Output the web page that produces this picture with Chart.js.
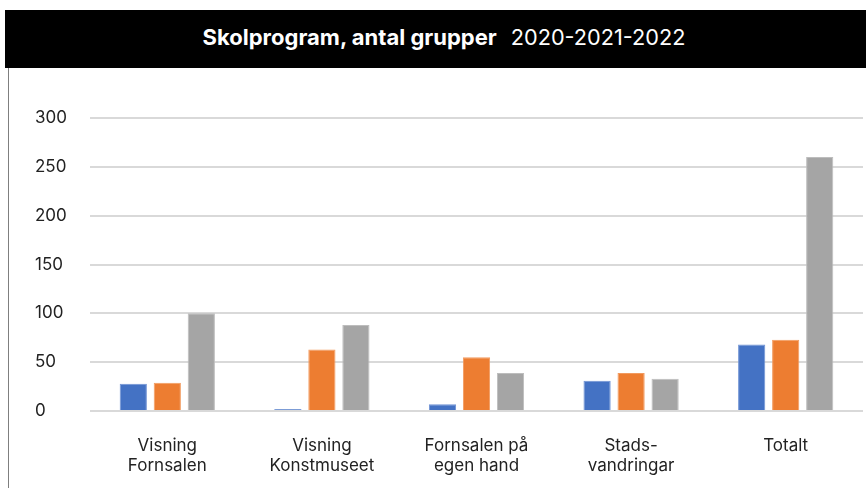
<!DOCTYPE html>
<html>
<head>
<meta charset="utf-8">
<script src="https://cdn.jsdelivr.net/npm/chart.js@4"></script>
<style>
  body { margin: 0; background: #fff; font-family: Inter, "Noto Sans", sans-serif; }
  #head {
    position: absolute; left: 5px; top: 10px; width: 844px; height: 58px; padding-left: 17px;
    background: #000; color: #fff; font-size: 21.7px; line-height: 54px; text-align: center;
  }
  #head b { font-weight: 700; font-size: 22px; margin-right: 14px; }
  #frame { position: absolute; left: 8px; top: 68px; width: 1px; height: 420px; background: #7f7f7f; z-index: 2; }
  #wrap { position: absolute; left: 0; top: 68px; width: 866px; height: 420px; }
</style>
</head>
<body>
<div id="head"><b>Skolprogram, antal grupper</b>2020-2021-2022</div>
<div id="frame"></div>
<div id="wrap"><canvas id="chart"></canvas></div>
<script>
var categories = [['Visning', 'Fornsalen'], ['Visning', 'Konstmuseet'], ['Fornsalen på', 'egen hand'], ['Stads-', 'vandringar'], 'Totalt'];
var years = ['2020', '2021', '2022'];
var values2020 = [28, 2, 7, 31, 68];
var values2021 = [29, 63, 55, 39, 73];
var values2022 = [100, 88, 39, 33, 260];
var colors = ['#4472C4', '#ED7D31', '#A5A5A5'];
var edges = ['#6f92d4', '#f29a5e', '#bdbdbd'];

function dataset(i, values) {
  return {
    label: years[i],
    data: values,
    backgroundColor: colors[i],
    borderColor: edges[i],
    borderWidth: 1,
    categoryPercentage: 0.66,
    barPercentage: 0.8
  };
}

var ctx = document.getElementById('chart');
new Chart(ctx, {
  type: 'bar',
  data: {
    labels: categories,
    datasets: [dataset(0, values2020), dataset(1, values2021), dataset(2, values2022)]
  },
  options: {
    responsive: true,
    maintainAspectRatio: false,
    animation: false,
    layout: { padding: { left: 35, right: 3, top: 50, bottom: 0 } },
    plugins: { legend: { display: false }, tooltip: { enabled: false } },
    scales: {
      x: {
        grid: { display: false },
        border: { display: false },
        ticks: { color: '#222', padding: 17, font: { family: 'Inter', size: 17, lineHeight: 1.18 }, maxRotation: 0 },
        afterFit: function (scale) { scale.height = 77; }
      },
      y: {
        min: 0, max: 300,
        ticks: { stepSize: 50, color: '#222', padding: 5, crossAlign: 'far', font: { family: 'Inter', size: 17 } },
        grid: { color: '#d9d9d9', lineWidth: 2, drawTicks: false },
        border: { display: false },
        afterFit: function (scale) { scale.width = 55; }
      }
    }
  }
});
</script>
</body>
</html>
